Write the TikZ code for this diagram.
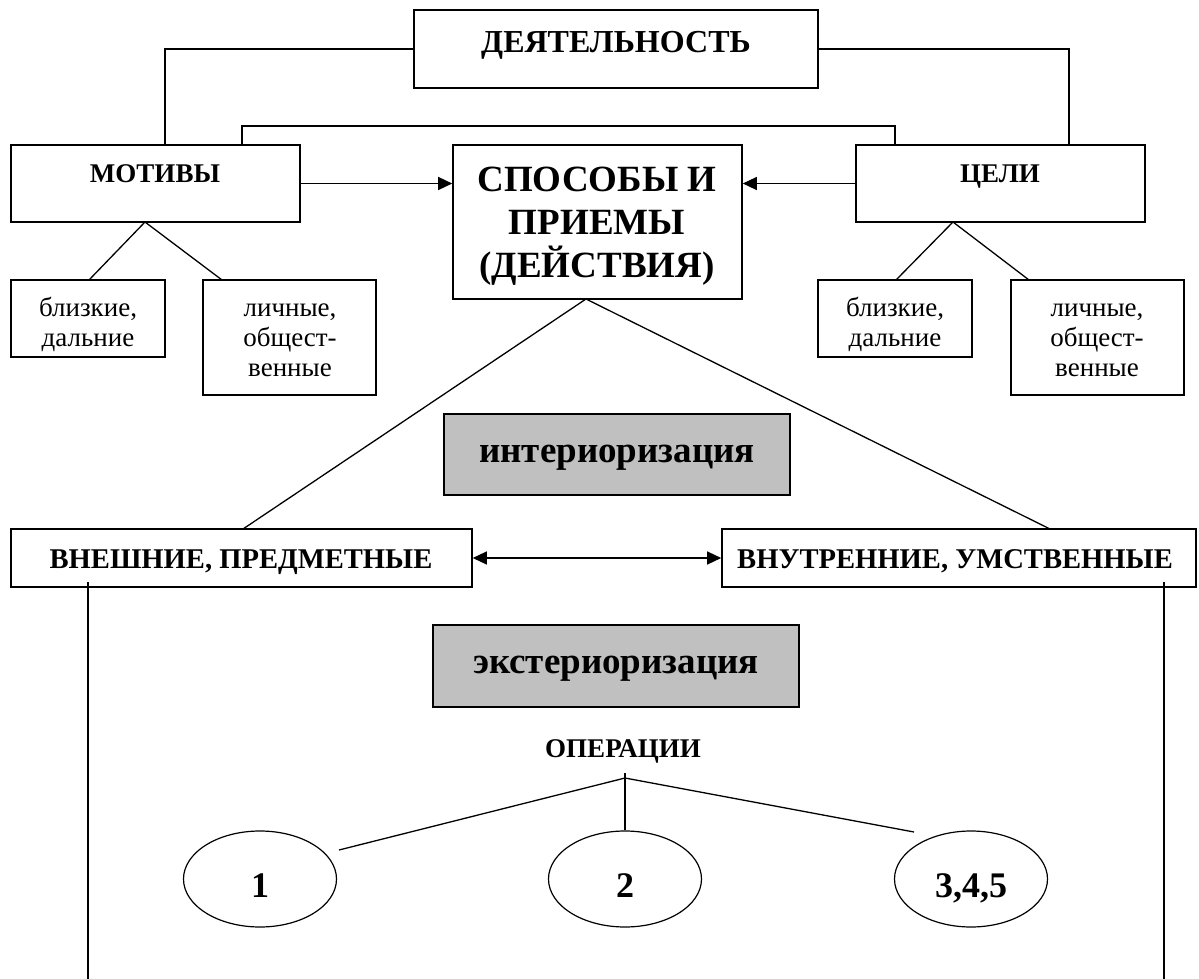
\documentclass[tikz,border=0pt]{standalone}
\usepackage{fontspec}
\setmainfont{Liberation Serif}
\usetikzlibrary{arrows.meta,fit,shapes.geometric}
\definecolor{boxgray}{HTML}{C0C0C0}
\begin{document}
\begin{tikzpicture}[x=0.5pt,y=-0.5pt,
  box/.style={draw,line width=0.8pt,inner sep=0pt},
  graybox/.style={box,fill=boxgray},
  conn/.style={line width=0.65pt},
  arr/.style={conn,-{Triangle[length=7pt,width=6.5pt]}},
  darr/.style={conn,{Triangle[length=7pt,width=6.5pt]}-{Triangle[length=7pt,width=6.5pt]}},
  oval/.style={draw,ellipse,line width=0.6pt,minimum width=76.5pt,minimum height=48pt,inner sep=0pt,
    font=\bfseries\fontsize{18}{20}\selectfont,text height=18pt,text depth=0pt},
  head/.style={font=\bfseries\fontsize{13.5}{15}\selectfont,anchor=base,inner sep=0pt},
  big/.style={font=\bfseries\fontsize{18.5}{21.5}\selectfont,anchor=base,inner sep=0pt},
  mid/.style={font=\bfseries\fontsize{14.3}{16}\selectfont,anchor=base,inner sep=0pt},
  small/.style={font=\fontsize{13.5}{15}\selectfont,align=center,anchor=base,inner sep=0pt}
]
\useasboundingbox (0,0) rectangle (1199,979);

% boxes
\node[box,fit={(414,10) (818,88)}] (dey) {};
\node[box,fit={(11,145) (300,222)}] (mot) {};
\node[box,fit={(453,145) (742,299)}] (spo) {};
\node[box,fit={(856,145) (1145,222)}] (cel) {};
\node[box,fit={(11,280) (165,357)}] (mb) {};
\node[box,fit={(203,280) (376,395)}] (ml) {};
\node[box,fit={(818,280) (972,357)}] (cb) {};
\node[box,fit={(1011,280) (1184,395)}] (cl) {};
\node[graybox,fit={(444,414) (790,495)}] (inter) {};
\node[box,fit={(11,529) (472,587)}] (vnesh) {};
\node[box,fit={(722,529) (1196,587)}] (vnutr) {};
\node[graybox,fit={(433,625) (799,707)}] (exter) {};

% texts
\node[head,font=\bfseries\fontsize{16}{18}\selectfont] (tdey) at (616,53) {ДЕЯТЕЛЬНОСТЬ};
\node[head] (tmot) at (155,182) {МОТИВЫ};
\node[head] (tcel) at (1000,182) {ЦЕЛИ};
\node[big,align=center] (tspo) at (597,277) {СПОСОБЫ И\\ПРИЕМЫ\\(ДЕЙСТВИЯ)};
\node[small] (tmb) at (88,346) {близкие,\\дальние};
\node[small] (tml) at (290,376) {личные,\\общест-\\венные};
\node[small] (tcb) at (895,346) {близкие,\\дальние};
\node[small] (tcl) at (1097,376) {личные,\\общест-\\венные};
\node[big] (tinter) at (617,462) {интериоризация};
\node[mid] (tvnesh) at (241,568) {ВНЕШНИЕ, ПРЕДМЕТНЫЕ};
\node[mid] (tvnutr) at (955,568) {ВНУТРЕННИЕ, УМСТВЕННЫЕ};
\node[big] (texter) at (616,673) {экстериоризация};
\node[head] (top) at (623,757) {ОПЕРАЦИИ};

% ellipses
\node[oval] (e1) at (260,879) {1};
\node[oval] (e2) at (625,879) {2};
\node[oval] (e3) at (971,879) {3,4,5};

% connectors
\coordinate (m1) at (165,145);
\coordinate (c1) at (1069,145);
\draw[conn] (dey.west) -| (m1);
\draw[conn] (dey.east) -| (c1);
\coordinate (m2) at (242,145);
\coordinate (c2) at (895,145);
\draw[conn] (m2) |- (895,126) -- (c2);
\draw[arr] (mot.east) -- (mot.east -| spo.west);
\draw[arr] (cel.west) -- (cel.west -| spo.east);

\coordinate (ma) at (145,222);
\coordinate (mbt) at (89,280);
\coordinate (mlt) at (222,280);
\draw[conn] (mbt) -- (ma) -- (mlt);
\coordinate (ca) at (953,222);
\coordinate (cbt) at (896,280);
\coordinate (clt) at (1029,280);
\draw[conn] (cbt) -- (ca) -- (clt);

\coordinate (sa) at (586,299);
\coordinate (vt1) at (243,529);
\coordinate (vt2) at (1050,529);
\draw[conn] (vt1) -- (sa) -- (vt2);
\draw[darr] (vnesh.east) -- (vnutr.west);

\coordinate (vl) at (88,582);
\coordinate (vlb) at (88,979);
\coordinate (vr) at (1164,582);
\coordinate (vrb) at (1164,979);
\draw[conn] (vl) -- (vlb);
\draw[conn] (vr) -- (vrb);

\coordinate (oj) at (625,778);
\coordinate (ot) at (625,773);
\coordinate (o1) at (339,850);
\coordinate (o3) at (914,832);
\draw[conn] (o1) -- (oj) -- (o3);
\draw[conn] (ot) -- (e2.north);
\end{tikzpicture}
\end{document}
